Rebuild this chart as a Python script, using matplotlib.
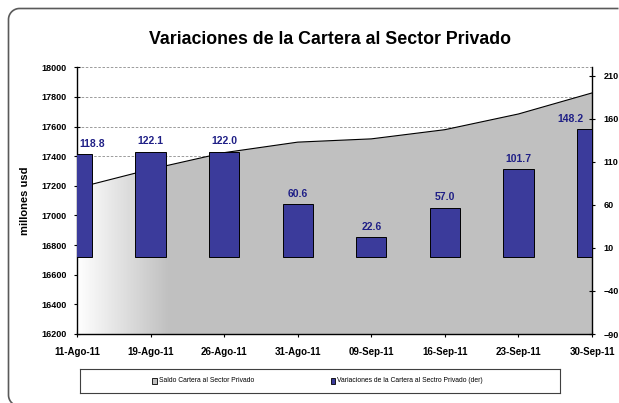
import numpy as np
import matplotlib
matplotlib.use("Agg")
import matplotlib.pyplot as plt
from matplotlib.patches import Rectangle

plt.rcParams['font.family'] = ['Liberation Sans', 'DejaVu Sans']

categories = ["11-Ago-11", "19-Ago-11", "26-Ago-11", "31-Ago-11",
              "09-Sep-11", "16-Sep-11", "23-Sep-11", "30-Sep-11"]
saldo = [17185, 17312, 17424, 17495, 17517, 17579, 17685, 17827]
variaciones = [118.8, 122.1, 122.0, 60.6, 22.6, 57.0, 101.7, 148.2]
left_ticks = list(range(16200, 18001, 200))
right_ticks = [-90, -40, 10, 60, 110, 160, 210]

bar_color = '#3B3B9B'
label_color = '#1F1F86'
area_gray = np.array([0.753, 0.753, 0.753])

W, H = 619, 403
fig = plt.figure(figsize=(W / 100, H / 100), dpi=100)
fig.patch.set_facecolor('white')

# background axes in pixel units for the chart border (cropped on right/bottom)
bg = fig.add_axes([0, 0, 1, 1], zorder=-10)
bg.set_xlim(0, W); bg.set_ylim(H, 0)
bg.axis('off')
r = 11.0
x0, y0, y1 = 8.5, 8.5, 406.0
th_top = np.linspace(1.5 * np.pi, np.pi, 20)      # top point -> left point
th_bot = np.linspace(np.pi, 0.5 * np.pi, 20)      # left point -> bottom point
bx = np.concatenate([[W - 0.5], x0 + r + r * np.cos(th_top), x0 + r + r * np.cos(th_bot)])
by = np.concatenate([[y0], y0 + r + r * np.sin(th_top), y1 - r + r * np.sin(th_bot)])
bg.plot(bx, by, color='#5a5a5a', linewidth=1.2, solid_capstyle='butt', clip_on=False)

ax = fig.add_axes([77 / W, 1 - 334 / H, (592 - 77) / W, (334 - 67.3) / H])
x = np.arange(len(categories))
ax.set_xlim(0, len(categories) - 1)
ax.set_ylim(16200, 18000)

# grid
ax.set_yticks(left_ticks)
ax.yaxis.grid(True, linestyle=(0, (3, 2)), color='#8c8c8c', linewidth=0.6)
ax.set_axisbelow(True)

# area with gradient fill
poly = ax.fill_between(x, saldo, 16200, facecolor='none', edgecolor='none', zorder=2)
xs = np.linspace(0, len(categories) - 1, 600)
t = np.clip(xs / 1.25, 0, 1)
rgb = (1 - t)[:, None] * np.array([1.0, 1.0, 1.0]) + t[:, None] * area_gray
img = np.repeat(rgb[None, :, :], 2, axis=0)
im = ax.imshow(img, extent=[0, len(categories) - 1, 16200, 18000], aspect='auto',
               origin='lower', zorder=2, interpolation='bilinear')
path = poly.get_paths()[0]
im.set_clip_path(path, transform=ax.transData)
ax.plot(x, saldo, color='black', linewidth=0.8, zorder=3)

for s in ['top', 'right']:
    ax.spines[s].set_visible(False)
ax.spines['left'].set_linewidth(1.0)
ax.spines['bottom'].set_linewidth(1.0)

ax.set_xticks(x)
ax.set_xticklabels(categories, fontsize=7, fontweight='bold')
ax.tick_params(axis='x', direction='inout', length=5, width=0.8, pad=7)
ax.tick_params(axis='y', direction='inout', length=5, width=0.8, labelsize=6.5, pad=5)
for lab in ax.get_yticklabels():
    lab.set_fontweight('bold')
ax.set_ylabel('millones usd', fontsize=8, fontweight='bold', labelpad=8)

# bars on secondary axis
ax2 = ax.twinx()
ax2.set_ylim(-90, 220)
ax2.set_yticks(right_ticks)
ax2.bar(x, variaciones, width=0.41, color=bar_color, edgecolor='black', linewidth=0.7, zorder=3)
ax2.set_xlim(0, len(categories) - 1)
for s in ['top', 'left', 'bottom']:
    ax2.spines[s].set_visible(False)
ax2.spines['right'].set_linewidth(1.0)
ax2.tick_params(axis='y', direction='inout', length=5, width=0.8, labelsize=6.5, pad=6)
for lab in ax2.get_yticklabels():
    lab.set_fontweight('bold')

n = len(categories)
for i, v in enumerate(variaciones):
    ha = 'center'
    xoff = 0
    if i == 0:
        ha = 'left'; xoff = 2
    elif i == n - 1:
        ha = 'right'; xoff = -6
    ax2.annotate(f"{v:.1f}", (x[i], v), xytext=(xoff, 4), textcoords='offset points',
                 ha=ha, va='bottom', fontsize=7.5, fontweight='bold', color=label_color, zorder=5)

fig.text(330 / W, 1 - 40 / H, 'Variaciones de la Cartera al Sector Privado', ha='center', va='center',
         fontsize=12.8, fontweight='bold')

# legend box
lax = fig.add_axes([80 / W, 1 - 393 / H, 480 / W, 24 / H])
lax.set_xlim(0, 1); lax.set_ylim(0, 1)
lax.set_xticks([]); lax.set_yticks([])
for s in lax.spines.values():
    s.set_linewidth(0.8)
    s.set_color('#404040')
lax.add_patch(Rectangle((0.150, 0.36), 0.0095, 0.28, facecolor='#c0c0c0', edgecolor='black', linewidth=0.6))
lax.text(0.164, 0.5, 'Saldo Cartera al Sector Privado', fontsize=4.9, va='center', ha='left')
lax.add_patch(Rectangle((0.522, 0.36), 0.0095, 0.28, facecolor=bar_color, edgecolor='black', linewidth=0.6))
lax.text(0.535, 0.5, 'Variaciones de la Cartera al Sectro Privado (der)', fontsize=4.9, va='center', ha='left')

fig.savefig('out.png', dpi=100)
